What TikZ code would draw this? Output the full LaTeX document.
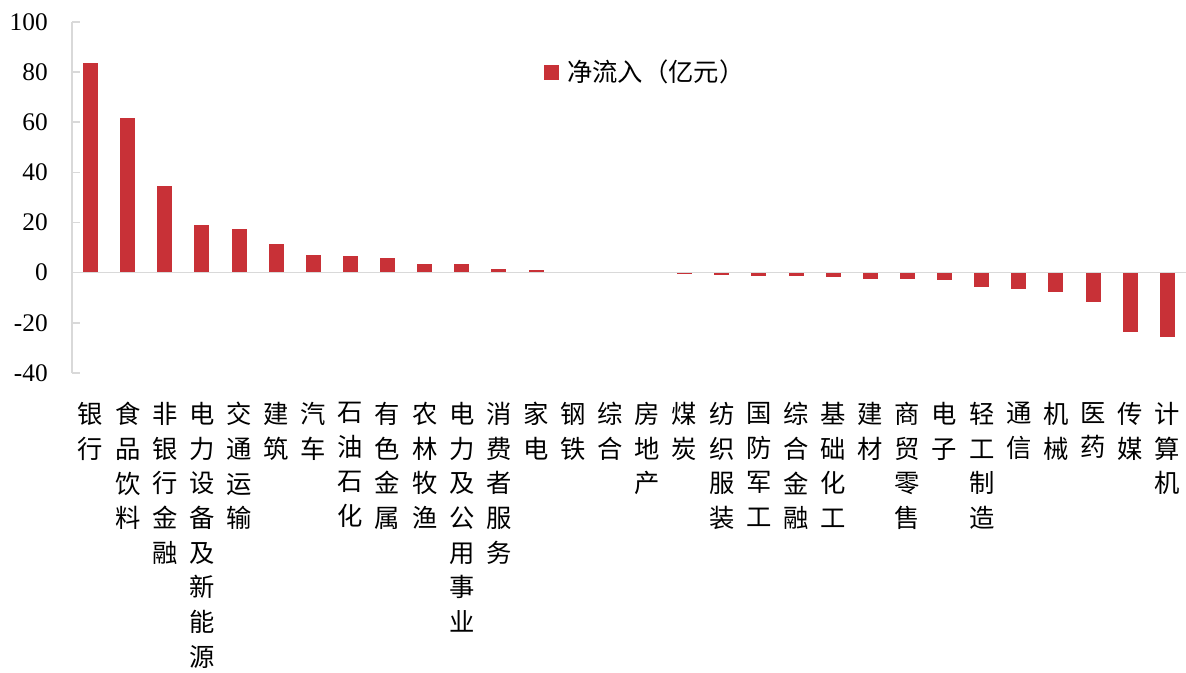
\documentclass[tikz,border=0pt]{standalone}
\usepackage{fontspec}
\setmainfont{Liberation Serif}
\newfontfamily\cjk{Noto Sans CJK SC}
\definecolor{barred}{RGB}{200,49,55}
\definecolor{axisgray}{RGB}{217,217,217}

\begin{document}
\begin{tikzpicture}[x=0.75pt,y=0.75pt,
	bar/.style	={fill=barred,draw=none},
	axis/.style	={draw=axisgray,line width=1.2pt},
	ylab/.style	={anchor=east,inner sep=0pt,font=\fontsize{19}{19}\selectfont},
	cat/.style	={anchor=north,inner sep=0pt,align=center,font=\cjk\fontsize{19}{26}\selectfont},
	]
	
	\useasboundingbox (0,0) rectangle (1186,672);
	
	% bars and category labels
	\foreach \v/\t [count=\i] in {83.5/{银\\行}, 61.8/{食\\品\\饮\\料}, 34.6/{非\\银\\行\\金\\融},
		19.0/{电\\力\\设\\备\\及\\新\\能\\源}, 17.6/{交\\通\\运\\输}, 11.3/{建\\筑}, 7.2/{汽\\车},
		6.7/{石\\油\\石\\化}, 5.8/{有\\色\\金\\属}, 3.3/{农\\林\\牧\\渔}, 3.3/{电\\力\\及\\公\\用\\事\\业},
		1.3/{消\\费\\者\\服\\务}, 0.9/{家\\电}, 0/{钢\\铁}, 0/{综\\合}, 0/{房\\地\\产}, -0.6/{煤\\炭},
		-0.9/{纺\\织\\服\\装}, -1.2/{国\\防\\军\\工}, -1.2/{综\\合\\金\\融}, -1.6/{基\\础\\化\\工},
		-2.4/{建\\材}, -2.4/{商\\贸\\零\\售}, -2.8/{电\\子}, -5.8/{轻\\工\\制\\造}, -6.4/{通\\信},
		-7.6/{机\\械}, -11.8/{医\\药}, -23.8/{传\\媒}, -25.8/{计\\算\\机}}
	{
		\ifdim \v pt=0pt \else
		\fill [bar] ({72+37.13*(\i-0.5)-7.5},399.3) rectangle ({72+37.13*(\i-0.5)+7.5},{399.3+2.507*\v});
		\fi
		\node [cat] (c\i) at ({72+37.13*(\i-0.5)},270) {\t};
	}
	
	% axes
	\coordinate (ytop) at (72,650);
	\coordinate (ybot) at (72,299);
	\coordinate (z0) at (72,399.3);
	\coordinate (z1) at (1186,399.3);
	\draw [axis] (ytop) -- (ybot);
	\draw [axis] (z0) -- (z1);
	
	\foreach \v in {-40,-20,...,100}
	{
		\draw [axis] (72,{399.3+2.507*\v}) -- (80,{399.3+2.507*\v});
		\node [ylab] (yl\v) at (48,{399.3+2.507*\v}) {\v};
	}
	
	% legend
	\fill [bar] (544,592) rectangle (559,607);
	\node [anchor=west,inner sep=0pt,font=\cjk\fontsize{19}{19}\selectfont] (leg) at (567,600) {净流入（亿元）};
\end{tikzpicture}
\end{document}
